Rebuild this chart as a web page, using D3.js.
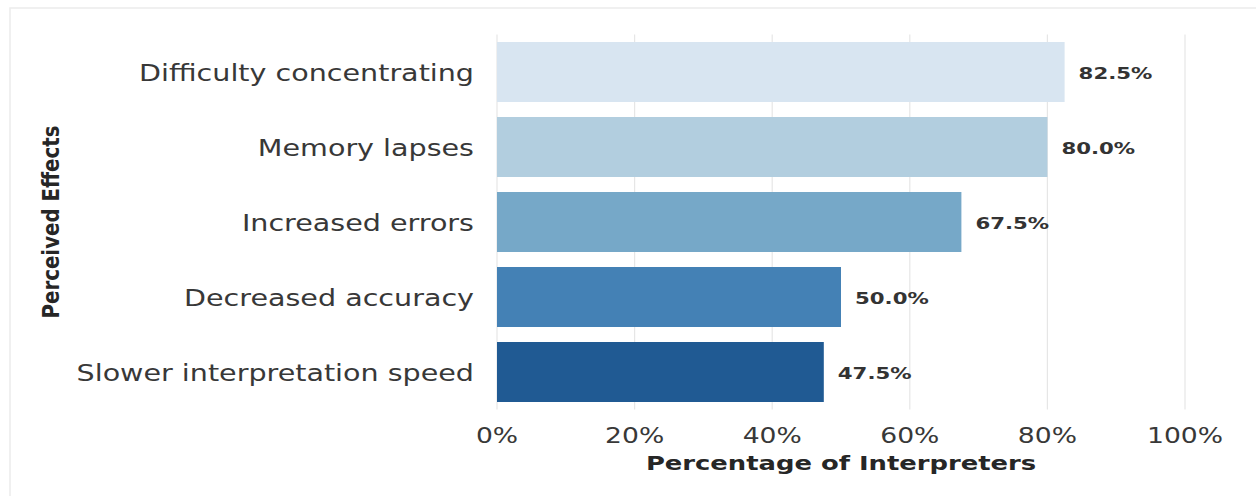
<!DOCTYPE html>
<html>
<head>
<meta charset="utf-8">
<script src="https://cdn.jsdelivr.net/npm/d3@7/dist/d3.min.js"></script>
<style>
  html, body { margin: 0; padding: 0; background: #ffffff; }
  svg { display: block; }
  text { font-family: "DejaVu Sans", sans-serif; }
</style>
</head>
<body>
<svg id="chart" width="1256" height="496"></svg>
<script>
// Perceived effects of fatigue reported by interpreters (share of respondents)
const categories = [
  "Difficulty concentrating",
  "Memory lapses",
  "Increased errors",
  "Decreased accuracy",
  "Slower interpretation speed"
];
const percentages = [82.5, 80.0, 67.5, 50.0, 47.5];
const barColors = ["#d8e5f1", "#b2cedf", "#76a8c8", "#4481b5", "#205a93"];
const xTicks = [0, 20, 40, 60, 80, 100];
const xTitle = "Percentage of Interpreters";
const yTitle = "Perceived Effects";

const W = 1256, H = 496;
const margin = { left: 497, right: W - 1185, top: 34.5, bottom: H - 409.5 };
const svg = d3.select("#chart");

// Faint frame along the top and left edges
svg.append("path")
  .attr("d", `M10,${H} L10,8 L${W},8`)
  .attr("fill", "none")
  .attr("stroke", "#ececec")
  .attr("stroke-width", 1.5);

const x = d3.scaleLinear().domain([0, 100]).range([margin.left, W - margin.right]);
const y = d3.scaleBand().domain(categories)
  .range([margin.top, H - margin.bottom])
  .paddingInner(0.2).paddingOuter(0.1);

// Text is drawn a little wider than its natural proportions
const SX_LABEL = 1.27, SX_TICK = 1.21, SX_TITLE = 1.36, SX_VALUE = 1.33;
function stretched(sel, sx) {
  return sel.attr("transform", function () {
    const px = +this.getAttribute("data-x"), py = +this.getAttribute("data-y");
    return `translate(${px},${py}) scale(${sx},1)`;
  });
}

// Vertical grid lines
svg.append("g").selectAll("line")
  .data(xTicks)
  .join("line")
  .attr("x1", d => x(d)).attr("x2", d => x(d))
  .attr("y1", margin.top).attr("y2", H - margin.bottom)
  .attr("stroke", "#e6e6e6")
  .attr("stroke-width", 1.2);

// Bars
svg.append("g").selectAll("rect")
  .data(categories)
  .join("rect")
  .attr("x", x(0))
  .attr("y", d => y(d))
  .attr("width", (d, i) => x(percentages[i]) - x(0))
  .attr("height", y.bandwidth())
  .attr("fill", (d, i) => barColors[i]);

// Category labels
svg.append("g").selectAll("text")
  .data(categories)
  .join("text")
  .attr("data-x", x(0) - 23)
  .attr("data-y", d => y(d) + y.bandwidth() / 2 + 1)
  .attr("text-anchor", "end")
  .attr("dominant-baseline", "central")
  .attr("font-size", 22.5)
  .attr("fill", "#383838")
  .text(d => d)
  .call(stretched, SX_LABEL);

// Value labels at the end of each bar
svg.append("g").selectAll("text")
  .data(categories)
  .join("text")
  .attr("data-x", (d, i) => x(percentages[i]) + 14)
  .attr("data-y", d => y(d) + y.bandwidth() / 2 + 1.5)
  .attr("dominant-baseline", "central")
  .attr("font-size", 16)
  .attr("font-weight", "bold")
  .attr("fill", "#333333")
  .text((d, i) => percentages[i].toFixed(1) + "%")
  .call(stretched, SX_VALUE);

// X tick labels
svg.append("g").selectAll("text")
  .data(xTicks)
  .join("text")
  .attr("data-x", d => x(d))
  .attr("data-y", 443)
  .attr("text-anchor", "middle")
  .attr("font-size", 22)
  .attr("fill", "#383838")
  .text(d => d + "%")
  .call(stretched, SX_TICK);

// X axis title
svg.append("text")
  .attr("data-x", (x(0) + x(100)) / 2)
  .attr("data-y", 470)
  .attr("text-anchor", "middle")
  .attr("font-size", 19)
  .attr("font-weight", "bold")
  .attr("fill", "#262626")
  .text(xTitle)
  .call(stretched, SX_TITLE);

// Y axis title
svg.append("text")
  .attr("transform", `translate(59,${(margin.top + H - margin.bottom) / 2}) scale(1.15,1) rotate(-90)`)
  .attr("text-anchor", "middle")
  .attr("font-size", 19.8)
  .attr("font-weight", "bold")
  .attr("fill", "#262626")
  .text(yTitle);
</script>
</body>
</html>
